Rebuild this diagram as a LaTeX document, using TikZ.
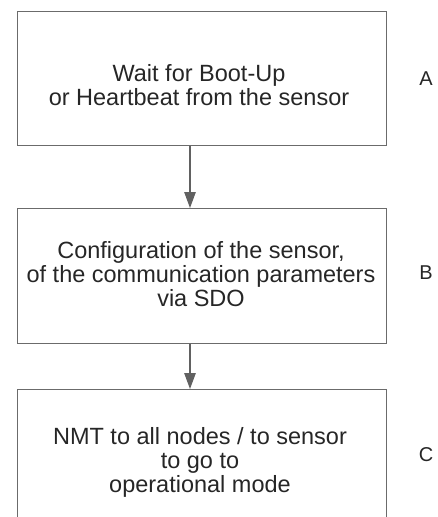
\documentclass[tikz,border=0pt]{standalone}
\usepackage{fontspec}
\setmainfont{Liberation Sans}
\usetikzlibrary{arrows.meta}
\begin{document}
\begin{tikzpicture}[x=1pt,y=-1pt,
  box/.style={draw=black!58, line width=1.2pt, inner sep=0pt, anchor=north west},
  txt/.style={align=center, text=black!85, font=\fontsize{23.5}{24}\selectfont, inner sep=0pt},
  lab/.style={text=black!85, font=\fontsize{20}{22}\selectfont, inner sep=0pt},
  arr/.style={draw=black!62, line width=1.2pt, -{Triangle[length=16pt,width=11.5pt]}}]
\useasboundingbox (0,0) rectangle (437,517);
\clip (0,0) rectangle (437,517);
\node[box, minimum width=369pt, minimum height=134.5pt] (a) at (17,10.5) {};
\node[box, minimum width=369pt, minimum height=135pt] (b) at (17,208) {};
\node[box, minimum width=369pt, minimum height=160pt] (c) at (17,389) {};
\node[txt] (ta) at (199,85) {Wait for Boot-Up\\or Heartbeat from the sensor};
\node[txt] (tb) at (201,274) {Configuration of the sensor,\\of the communication parameters\\via SDO};
\node[txt] (tc) at (200,462) {NMT to all nodes / to sensor\\to go to\\operational mode};
\node[lab] (la) at (426,79) {A};
\node[lab] (lb) at (426,273) {B};
\node[lab] (lc) at (426,455) {C};
\coordinate (ax) at (190,0);
\draw[arr] (a.south -| ax) -- (b.north -| ax);
\draw[arr] (b.south -| ax) -- (c.north -| ax);
\end{tikzpicture}
\end{document}
